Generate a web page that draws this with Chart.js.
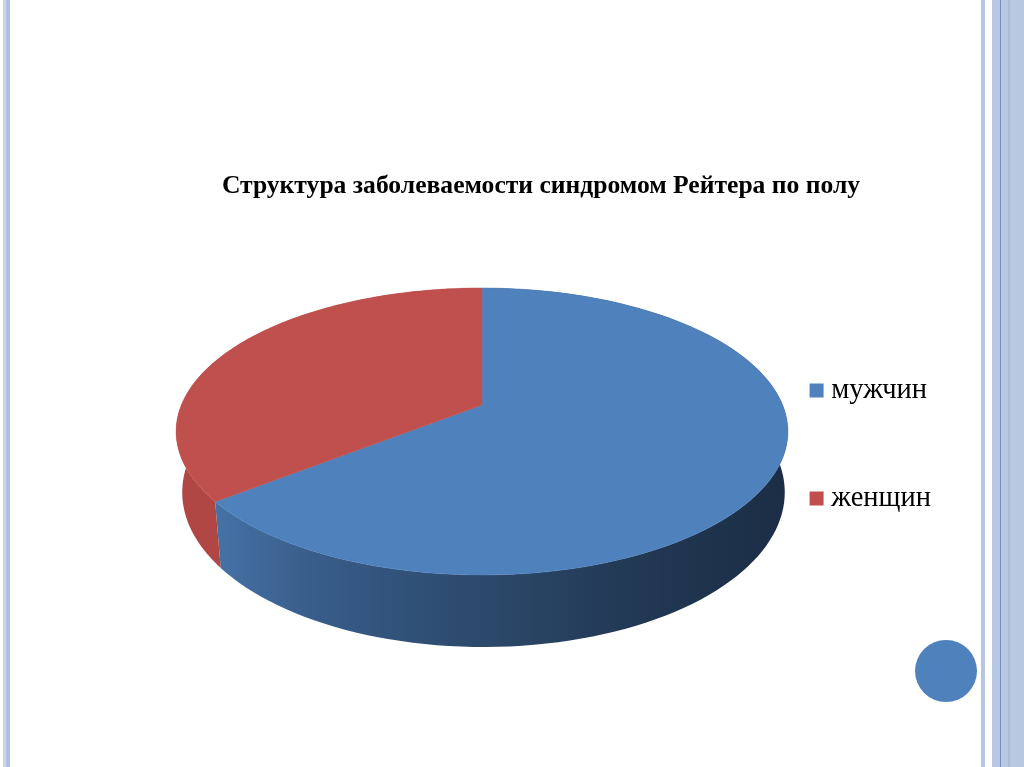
<!DOCTYPE html>
<html>
<head>
<meta charset="utf-8">
<style>
  html, body { margin: 0; padding: 0; background: #fff; overflow: hidden; }
  #page { position: relative; width: 1024px; height: 767px; }
  .s { position: absolute; top: 0; height: 767px; }
  #dot { position: absolute; left: 915px; top: 640px; width: 62px; height: 62px; border-radius: 50%; background: #4f81bd; }
  #wrap { position: absolute; left: 71px; top: 0; width: 940px; height: 767px; }
</style>
</head>
<body>
<div id="page">
  <div class="s" style="left:3px;width:3px;background:#ced6e6"></div>
  <div class="s" style="left:6px;width:4px;background:#aec0e0"></div>
  <div class="s" style="left:981px;width:4px;background:#b8c6de"></div>
  <div class="s" style="left:992px;width:32px;background:#b9c8e1"></div>
  <div class="s" style="left:1000px;width:1px;background:#6f8fbf"></div>
  <div class="s" style="left:1008px;width:2px;background:#a9bbd8"></div>
  <div id="dot"></div>
  <div id="wrap"><canvas id="myChart" width="940" height="767"></canvas></div>
</div>
<script src="https://cdn.jsdelivr.net/npm/chart.js@4"></script>
<script>
var titleText = 'Структура заболеваемости синдромом Рейтера по полу';
var categories = ['мужчин', 'женщин'];
var shares = [64.4, 35.6];
var topColors = ['#4f81bd', '#c0504d'];

// look of the tilted pie, in canvas pixels
var pie = { x: 411, y: 405, rx: 300.6, ryUp: 138.6, tilt: -0.1847, depth: 58.7, shrink: 0.985, lowShift: 1.5 };

function rim(a, low) {
  var u = Math.cos(a), v = Math.sin(a), w = 1 + pie.tilt * v;
  var sx = low ? pie.shrink : 1;
  return {
    x: pie.x + (low ? pie.lowShift : 0) + sx * pie.rx * u / w,
    y: pie.y + pie.ryUp * v / w + (low ? pie.depth / w : 0)
  };
}

function wallFill(ctx, i) {
  var g = ctx.createLinearGradient(145, 0, 717, 0);
  if (i === 0) {
    g.addColorStop(0, '#4672a6');
    g.addColorStop(0.15, '#3a5f8d');
    g.addColorStop(0.32, '#315279');
    g.addColorStop(0.5, '#2b4768');
    g.addColorStop(0.67, '#243c59');
    g.addColorStop(0.85, '#1f334c');
    g.addColorStop(1, '#1c2e46');
  } else {
    g.addColorStop(0, '#b04744');
    g.addColorStop(0.14, '#a8423f');
    g.addColorStop(1, '#a8423f');
  }
  return g;
}

var tiltedPie = {
  id: 'tiltedPie',
  beforeDatasetDraw: function (chart) {
    var ctx = chart.ctx;
    var arcs = chart.getDatasetMeta(0).data;
    var p, n = 120;
    ctx.save();
    // side wall first, the top face covers its back part
    arcs.forEach(function (arc, i) {
      var s = arc.startAngle, e = arc.endAngle, k;
      ctx.beginPath();
      for (k = 0; k <= n; k++) {
        p = rim(s + (e - s) * k / n, false);
        ctx.lineTo(p.x, p.y);
      }
      for (k = n; k >= 0; k--) {
        p = rim(s + (e - s) * k / n, true);
        ctx.lineTo(p.x, p.y);
      }
      ctx.closePath();
      ctx.fillStyle = wallFill(ctx, i);
      ctx.fill();
    });
    arcs.forEach(function (arc, i) {
      var s = arc.startAngle, e = arc.endAngle, k;
      ctx.beginPath();
      ctx.moveTo(pie.x, pie.y);
      for (k = 0; k <= n; k++) {
        p = rim(s + (e - s) * k / n, false);
        ctx.lineTo(p.x, p.y);
      }
      ctx.closePath();
      ctx.fillStyle = topColors[i];
      ctx.strokeStyle = topColors[i];
      ctx.lineWidth = 0.5;
      ctx.fill();
      ctx.stroke();
    });
    ctx.restore();
    return false;
  }
};

var ctx = document.getElementById('myChart');
var myChart = new Chart(ctx, {
  type: 'pie',
  data: {
    labels: categories,
    datasets: [{
      data: shares,
      backgroundColor: topColors,
      borderWidth: 0
    }]
  },
  options: {
    responsive: false,
    animation: false,
    layout: { padding: { left: 70, right: 70, top: 122 } },
    plugins: {
      title: {
        display: true,
        text: titleText,
        color: '#000',
        font: { family: '"Liberation Serif"', size: 25.6, weight: 'bold' },
        padding: { top: 49, bottom: 20 }
      },
      legend: {
        position: 'right',
        labels: {
          color: '#000',
          usePointStyle: true,
          pointStyle: 'rect',
          boxWidth: 1,
          boxHeight: 14,
          padding: 79.5,
          font: { family: '"Liberation Serif"', size: 28.5 }
        }
      },
      tooltip: { enabled: false }
    }
  },
  plugins: [tiltedPie]
});
</script>
</body>
</html>
